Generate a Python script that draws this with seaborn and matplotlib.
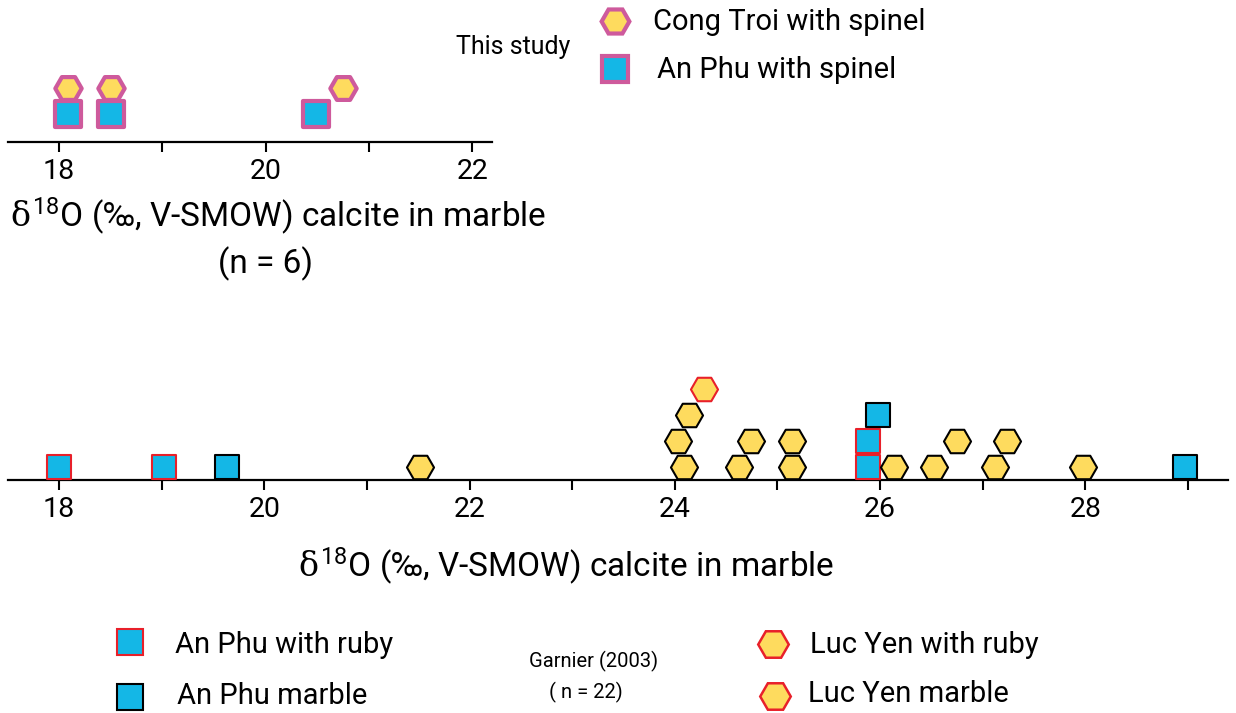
import matplotlib
matplotlib.use("Agg")
import matplotlib.pyplot as plt
import seaborn as sns
import pandas as pd

# colours
blue = "#14B7E6"
yellow = "#FEDB5E"
pink = "#CE5A9C"
red = "#E8202A"

# this study (n = 6): x = d18O, level = stacking row
cong_troi_x = [18.09, 18.50, 20.75]
cong_troi_lvl = [2, 2, 2]
an_phu_spinel_x = [18.09, 18.50, 20.49]
an_phu_spinel_lvl = [1, 1, 1]

# Garnier (2003), n = 22
an_phu_ruby_x = [18.0, 19.02, 25.88, 25.88]
an_phu_ruby_lvl = [1, 1, 1, 2]
an_phu_marble_x = [19.64, 25.98, 28.97]
an_phu_marble_lvl = [1, 3, 1]
luc_yen_ruby_x = [24.28]
luc_yen_ruby_lvl = [4]
luc_yen_marble_x = [21.52, 24.09, 24.03, 24.14, 24.63, 24.74, 25.14, 25.14,
                    26.14, 26.53, 26.75, 27.12, 27.24, 27.98]
luc_yen_marble_lvl = [1, 1, 2, 3, 1, 2, 1, 2, 1, 1, 2, 1, 2, 1]

top_ticks = [18, 19, 20, 21, 22]
bottom_ticks = list(range(18, 30))

sns.set_style("white")
plt.rcParams['font.family'] = ['Roboto', 'DejaVu Sans']
plt.rcParams['text.color'] = 'black'
plt.rcParams['xtick.color'] = 'black'
plt.rcParams['xtick.labelcolor'] = 'black'
plt.rcParams['mathtext.fontset'] = 'custom'
plt.rcParams['mathtext.rm'] = 'Roboto'
plt.rcParams['mathtext.it'] = 'DejaVu Serif'

W, H = 1236, 713
fig = plt.figure(figsize=(W / 100, H / 100), dpi=100)


def px_axes(x0, x1, y_line, h):
    # axes rectangle from pixel coords (y measured from top)
    return fig.add_axes([x0 / W, 1 - y_line / H, (x1 - x0) / W, h / H])


def style_axis(ax, ticks):
    sns.despine(ax=ax, left=True, top=True, right=True)
    ax.spines['bottom'].set_linewidth(1.6)
    ax.spines['bottom'].set_color('black')
    ax.set_xticks(ticks)
    ax.set_xticklabels([str(t) if t % 2 == 0 else '' for t in ticks], fontsize=20.5)
    ax.tick_params(axis='x', direction='out', length=7.5, width=1.5,
                   color='black', pad=4, bottom=True)
    ax.set_yticks([])
    ax.set_xlabel('')
    ax.set_ylabel('')
    ax.patch.set_alpha(0)


def draw(ax, xs, lvls, marker, face, edge, s, lw):
    df = pd.DataFrame({'x': xs, 'lvl': lvls})
    sns.scatterplot(data=df, x='x', y='lvl', ax=ax, marker=marker, s=s,
                    color=face, edgecolor=edge, linewidth=lw, clip_on=False,
                    zorder=3, legend=False)


# top panel
ax1 = px_axes(8, 492, 142, 82)
draw(ax1, an_phu_spinel_x, an_phu_spinel_lvl, 's', blue, pink, 330, 3)
draw(ax1, cong_troi_x, cong_troi_lvl, 'H', yellow, pink, 360, 3)
ax1.set_xlim(17.506, 22.19)
ax1.set_ylim(-0.077, 3.08)
style_axis(ax1, top_ticks)

# bottom panel
ax2 = px_axes(8, 1228, 480, 110)
draw(ax2, an_phu_ruby_x, an_phu_ruby_lvl, 's', blue, red, 310, 1.5)
draw(ax2, an_phu_marble_x, an_phu_marble_lvl, 's', blue, 'black', 310, 1.5)
draw(ax2, luc_yen_marble_x, luc_yen_marble_lvl, 'H', yellow, 'black', 380, 1.5)
draw(ax2, luc_yen_ruby_x, luc_yen_ruby_lvl, 'H', yellow, red, 380, 1.5)
ax2.set_xlim(17.503, 29.39)
ax2.set_ylim(0.5, 4.73)
style_axis(ax2, bottom_ticks)

# overlay in pixel coordinates for labels and legends
ov = fig.add_axes([0, 0, 1, 1])
ov.set_xlim(0, W)
ov.set_ylim(H, 0)
ov.axis('off')
ov.patch.set_alpha(0)

label = r'$\delta^{18}$O (‰, V-SMOW) calcite in marble'
ov.text(278, 216, label, fontsize=24, ha='center', va='center')
ov.text(265, 264, '(n = 6)', fontsize=24, ha='center', va='center')
ov.text(566, 566, label, fontsize=24, ha='center', va='center')

# top legend
ov.text(513, 47, 'This study', fontsize=18, ha='center', va='center')
ov.plot([615], [21], marker='H', ms=20, mfc=yellow, mec=pink, mew=3)
ov.plot([615], [69], marker='s', ms=19, mfc=blue, mec=pink, mew=3)
ov.text(653, 22, 'Cong Troi with spinel', fontsize=21, ha='left', va='center')
ov.text(657, 70, 'An Phu with spinel', fontsize=21, ha='left', va='center')

# bottom legend
ov.plot([130], [642], marker='s', ms=19, mfc=blue, mec=red, mew=1.5)
ov.plot([130], [697], marker='s', ms=19, mfc=blue, mec='black', mew=1.5)
ov.plot([773], [644], marker='H', ms=22, mfc=yellow, mec=red, mew=1.8)
ov.plot([775], [696], marker='H', ms=22, mfc=yellow, mec=red, mew=1.8)
ov.text(175, 645, 'An Phu with ruby', fontsize=21, ha='left', va='center')
ov.text(177, 696, 'An Phu marble', fontsize=21, ha='left', va='center')
ov.text(810, 645, 'Luc Yen with ruby', fontsize=21, ha='left', va='center')
ov.text(808, 694, 'Luc Yen marble', fontsize=21, ha='left', va='center')
ov.text(594, 661, 'Garnier (2003)', fontsize=14.5, ha='center', va='center')
ov.text(586, 692, '( n = 22)', fontsize=14.5, ha='center', va='center')

fig.savefig('out.png', dpi=100)
